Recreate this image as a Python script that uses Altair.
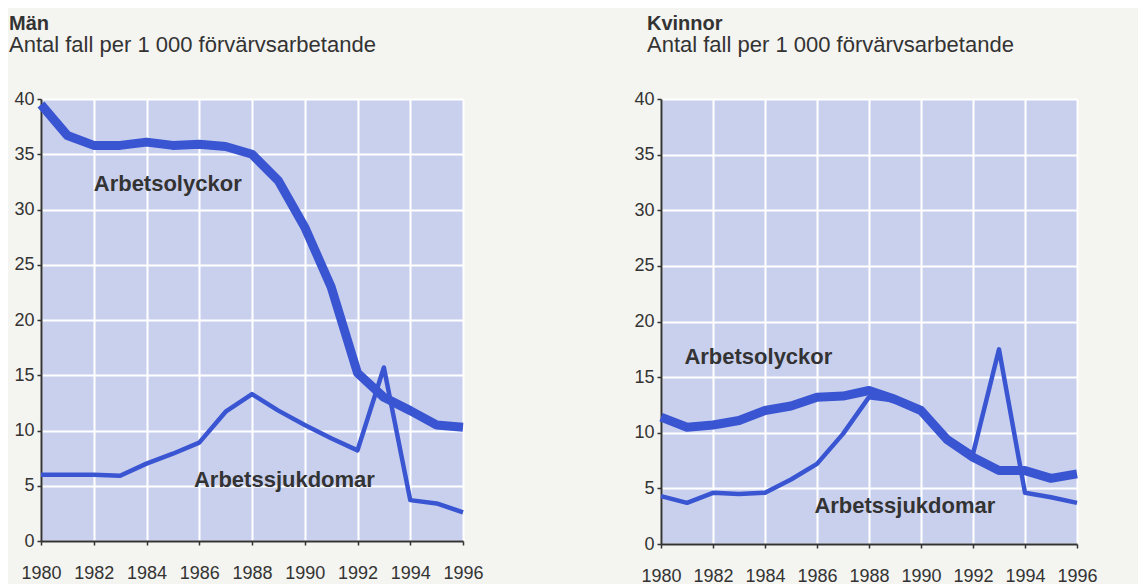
import altair as alt
import pandas as pd

years = list(range(1980, 1997))
men_olyckor = [39.5, 36.7, 35.8, 35.8, 36.1, 35.8, 35.9, 35.7, 35.0, 32.6, 28.4, 23.0, 15.2, 13.0, 11.8, 10.5, 10.3]
men_sjuk = [6.0, 6.0, 6.0, 5.9, 7.0, 7.9, 8.9, 11.7, 13.3, 11.8, 10.5, 9.3, 8.2, 15.7, 3.7, 3.4, 2.6]
women_olyckor = [11.4, 10.5, 10.7, 11.1, 12.0, 12.4, 13.2, 13.3, 13.8, 13.0, 12.0, 9.4, 7.8, 6.6, 6.6, 5.9, 6.3]
women_sjuk = [4.3, 3.7, 4.6, 4.5, 4.6, 5.8, 7.2, 9.9, 13.2, 12.9, 11.8, 9.6, 8.1, 17.5, 4.6, 4.2, 3.7]

label_texts = ["Arbetsolyckor", "Arbetssjukdomar"]
men_label_x = [1982.0, 1985.8]
men_label_y = [31.7, 4.9]
women_label_x = [1980.9, 1985.9]
women_label_y = [16.2, 2.8]

x_ticks = list(range(1980, 1997, 2))
y_ticks = list(range(0, 41, 5))

FONT = "Liberation Sans"
TEXT = "#333333"
LINE = "#3a55d2"


def panel(title, olyckor, sjuk, lx, ly, width, height, dx):
    df = pd.DataFrame({"year": years, "olyckor": olyckor, "sjuk": sjuk})
    lab = pd.DataFrame({"x": lx, "y": ly, "t": label_texts})
    xs = alt.Scale(domain=[1980, 1996], nice=False, zero=False)
    ys = alt.Scale(domain=[0, 40], nice=False)
    xax = alt.Axis(values=x_ticks, format="d", title=None, labelFlush=False)
    yax = alt.Axis(values=y_ticks, title=None)
    thick = alt.Chart(df).mark_line(strokeWidth=9, color=LINE, strokeJoin="round").encode(
        x=alt.X("year:Q", scale=xs, axis=xax),
        y=alt.Y("olyckor:Q", scale=ys, axis=yax),
    )
    thin = alt.Chart(df).mark_line(strokeWidth=4.5, color=LINE, strokeJoin="round").encode(
        x=alt.X("year:Q", scale=xs, axis=xax),
        y=alt.Y("sjuk:Q", scale=ys, axis=yax),
    )
    labels = alt.Chart(lab).mark_text(
        align="left", baseline="alphabetic", font=FONT, fontSize=22,
        fontWeight="bold", color=TEXT
    ).encode(
        x=alt.X("x:Q", scale=xs, axis=xax),
        y=alt.Y("y:Q", scale=ys, axis=yax),
        text="t:N",
    )
    return alt.layer(thick, thin, labels).properties(
        width=width, height=height,
        title=alt.TitleParams(
            text=title,
            subtitle="Antal fall per 1 000 förvärvsarbetande",
            anchor="start", frame="group", dx=dx,
            font=FONT, fontSize=20, fontWeight="bold", color=TEXT,
            subtitleFont=FONT, subtitleFontSize=22, subtitleColor=TEXT,
            subtitlePadding=1, offset=34,
        ),
    )


left = panel("Män", men_olyckor, men_sjuk, men_label_x, men_label_y, 422, 442, -32)
right = panel("Kvinnor", women_olyckor, women_sjuk, women_label_x, women_label_y, 416, 445, -14)

chart = alt.hconcat(left, right, spacing=149).properties(
    background="#f4f4f1",
    padding={"left": 0, "top": 5, "right": 40, "bottom": 0},
).configure_view(
    fill="#c9d0ee", stroke="transparent"
).configure_axis(
    labelFont=FONT, labelFontSize=18, labelColor=TEXT,
    domainColor=TEXT, domainWidth=2, tickColor=TEXT, tickWidth=1.5, tickSize=4,
    gridColor="white", gridWidth=2, gridOpacity=1,
).configure_axisX(
    labelPadding=19,
).configure_axisY(
    labelPadding=3,
)

chart.save("out.html", embed_options={"renderer": "svg", "actions": False})
